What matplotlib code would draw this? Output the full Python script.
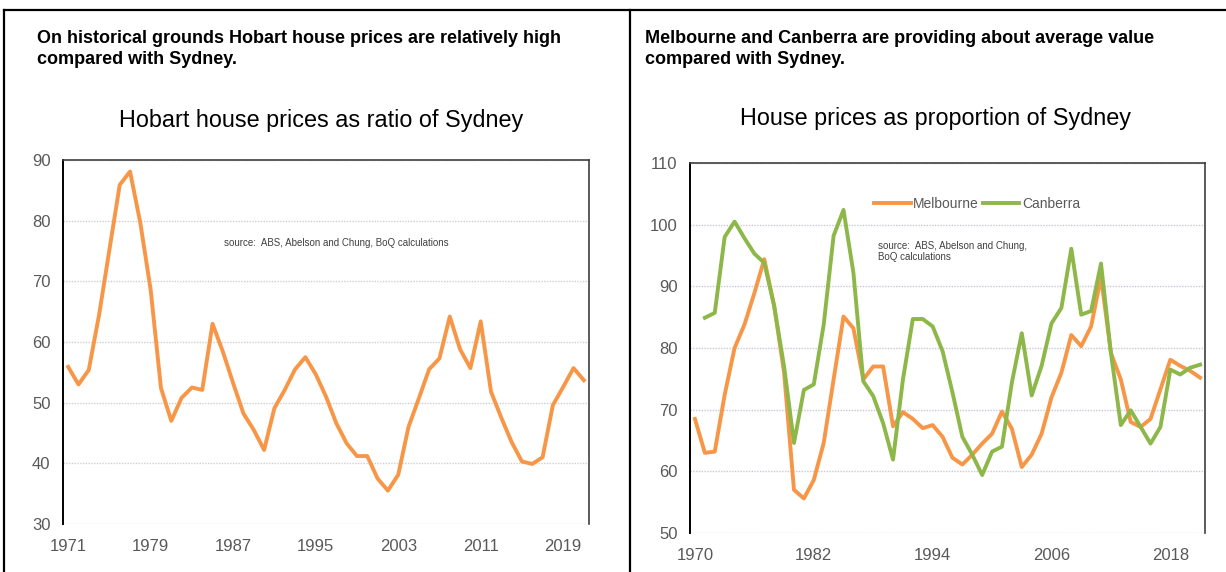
import numpy as np
import matplotlib
matplotlib.use("Agg")
import matplotlib.pyplot as plt
from matplotlib.lines import Line2D

plt.rcParams['font.family'] = ['Liberation Sans', 'DejaVu Sans']

# Hobart house prices as ratio of Sydney, 1971-2021
hob_years = list(range(1971, 2022))
hobart = [55.9, 53.0, 55.4, 64.5, 75.2, 85.9, 88.1, 79.6, 68.6, 52.4,
          47.0, 50.8, 52.5, 52.1, 63.0, 58.4, 53.2, 48.2, 45.5, 42.2,
          49.1, 52.1, 55.5, 57.5, 54.7, 51.0, 46.6, 43.3, 41.2, 41.2,
          37.5, 35.5, 38.1, 46.0, 50.7, 55.5, 57.3, 64.2, 58.8, 55.7,
          63.4, 51.8, 47.5, 43.5, 40.3, 39.9, 41.0, 49.6, 52.6, 55.7,
          53.7]
hob_ticks = [1971, 1979, 1987, 1995, 2003, 2011, 2019]

# Melbourne and Canberra house prices as proportion of Sydney, 1970-2021
mc_years = list(range(1970, 2022))
melbourne = [68.5, 63.0, 63.2, 72.4, 80.0, 83.8, 88.9, 94.4, 86.8, 76.0,
             57.0, 55.6, 58.6, 64.6, 74.9, 85.1, 83.2, 74.9, 77.0, 77.0,
             67.3, 69.6, 68.5, 67.0, 67.5, 65.6, 62.2, 61.1, 62.7, 64.5,
             66.1, 69.7, 66.9, 60.7, 62.7, 66.1, 72.0, 76.0, 82.1, 80.3,
             83.5, 91.5, 79.2, 74.9, 68.0, 67.2, 68.5, 73.3, 78.1, 77.1,
             76.3, 75.2]
canberra = [np.nan, 84.9, 85.7, 98.0, 100.5, 97.8, 95.3, 93.8, 86.8, 77.0,
            64.6, 73.2, 74.1, 83.8, 98.2, 102.4, 92.2, 74.6, 72.2, 67.8,
            61.9, 74.9, 84.7, 84.7, 83.5, 79.5, 72.8, 65.6, 62.7, 59.4,
            63.2, 64.0, 74.4, 82.4, 72.3, 77.1, 84.0, 86.5, 96.1, 85.4,
            86.0, 93.7, 79.2, 67.5, 69.9, 67.2, 64.5, 67.2, 76.5, 75.7,
            76.8, 77.3]
mc_ticks = [1970, 1982, 1994, 2006, 2018]

orange = '#F79646'
green = '#8DB849'
grey = '#595959'
source = 'source:  ABS, Abelson and Chung, BoQ calculations'

fig = plt.figure(figsize=(12.26, 5.72), dpi=100)
W, H = 1226, 572


def style_axes(ax, grid_color):
    ax.grid(axis='y', color=grid_color, linestyle=(0, (1, 1)), linewidth=1.0)
    ax.set_axisbelow(True)
    ax.spines['bottom'].set_visible(False)
    ax.spines['left'].set_color('black')
    ax.spines['left'].set_linewidth(1.4)
    for s in ['top', 'right']:
        ax.spines[s].set_color('#404040')
        ax.spines[s].set_linewidth(1.2)
    ax.tick_params(length=0, labelsize=12, labelcolor=grey)
    ax.tick_params(axis='y', pad=9)
    ax.tick_params(axis='x', pad=11)


# left chart
ax1 = fig.add_axes([63 / W, 1 - 524 / H, 526 / W, 364 / H])
ax1.plot(hob_years, hobart, color=orange, linewidth=2.8)
ax1.set_xlim(hob_years[0] - 0.5, hob_years[-1] + 0.5)
ax1.set_ylim(30, 90)
ax1.set_yticks(range(30, 91, 10))
ax1.set_xticks(hob_ticks)
style_axes(ax1, '#cfcfcf')
ax1.text(0.306, 0.772, source, transform=ax1.transAxes, fontsize=7,
         color='#404040', va='center', ha='left')

# right chart
ax2 = fig.add_axes([690 / W, 1 - 533 / H, 515 / W, 370 / H])
ax2.plot(mc_years, melbourne, color=orange, linewidth=2.8, label='Melbourne')
ax2.plot(mc_years, canberra, color=green, linewidth=2.8, label='Canberra')
ax2.set_xlim(mc_years[0] - 0.5, mc_years[-1] + 0.5)
ax2.set_ylim(50, 110)
ax2.set_yticks(range(50, 111, 10))
ax2.set_xticks(mc_ticks)
style_axes(ax2, '#c8c8da')
ax2.text(0.365, 0.79, 'source:  ABS, Abelson and Chung,\nBoQ calculations',
         transform=ax2.transAxes, fontsize=7, color='#404040',
         va='top', ha='left', linespacing=1.2)
leg = ax2.legend(loc='center', bbox_to_anchor=(0.558, 0.889), ncol=2,
                 frameon=False, handlelength=2.6, handletextpad=0.2,
                 columnspacing=0.3, fontsize=10, labelcolor=grey)

# headers and chart titles
fig.text(37 / W, 1 - 49 / H,
         'On historical grounds Hobart house prices are relatively high\ncompared with Sydney.',
         fontsize=13, fontweight='bold', va='center', ha='left', linespacing=1.35)
fig.text(645 / W, 1 - 49 / H,
         'Melbourne and Canberra are providing about average value\ncompared with Sydney.',
         fontsize=13, fontweight='bold', va='center', ha='left', linespacing=1.35)
fig.text(321 / W, 1 - 120 / H, 'Hobart house prices as ratio of Sydney',
         fontsize=16.8, va='center', ha='center')
fig.text(935 / W, 1 - 118 / H, 'House prices as proportion of Sydney',
         fontsize=16.8, va='center', ha='center')

# panel frames
for x0, y0, x1, y1 in [(4, 10, 1226, 10), (4, 10, 4, 572), (630, 10, 630, 572)]:
    fig.add_artist(Line2D([x0 / W, x1 / W], [1 - y0 / H, 1 - y1 / H],
                          transform=fig.transFigure, color='black', linewidth=1.6))

fig.savefig('out.png', dpi=100)
